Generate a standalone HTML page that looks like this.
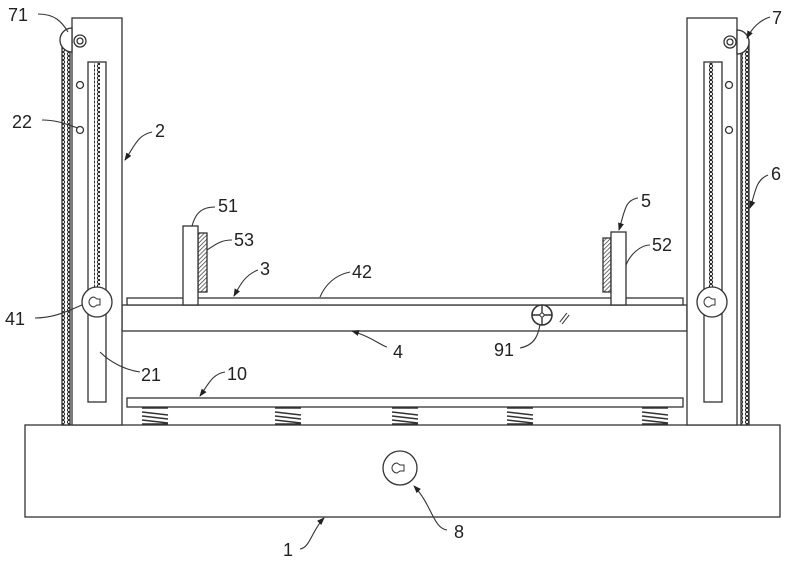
<!DOCTYPE html>
<html><head><meta charset="utf-8"><style>
html,body{margin:0;padding:0;background:#fff;width:800px;height:562px;overflow:hidden}
svg text{font-family:"Liberation Sans",sans-serif;font-size:18px;fill:#222}
</style></head><body>
<svg width="800" height="562" viewBox="0 0 800 562" xmlns="http://www.w3.org/2000/svg">
<defs>
<pattern id="ch" width="6" height="4" patternUnits="userSpaceOnUse"><rect width="6" height="4" fill="#fff"/><circle cx="3" cy="2" r="1.6" fill="none" stroke="#222" stroke-width="1"/></pattern>
<pattern id="ht" width="3" height="3" patternUnits="userSpaceOnUse" patternTransform="rotate(45)"><rect width="3" height="3" fill="#fff"/><line x1="0" y1="0" x2="0" y2="3" stroke="#333" stroke-width="1.4"/></pattern>
<marker id="ar" markerWidth="8" markerHeight="8" refX="7" refY="4" orient="auto" markerUnits="userSpaceOnUse"><path d="M0,1 L8,4 L0,7z" fill="#222"/></marker>
</defs>
<g fill="#fff" stroke="#333" stroke-width="1.3">
<rect x="25" y="425" width="755" height="92"/>
<circle cx="400" cy="468" r="17"/>
<path d="M397,463 a5,5 0 1,0 0,10 l3,-2 h4 v-6 h-4 z" stroke-width="1"/>
<g stroke-width="1.5" fill="none">
<path d="M142,408 h26 M142,412 l26,3 M142,416 l26,3 M142,420 l26,3 M142,424 h26"/>
<path d="M275,408 h26 M275,412 l26,3 M275,416 l26,3 M275,420 l26,3 M275,424 h26"/>
<path d="M392,408 h26 M392,412 l26,3 M392,416 l26,3 M392,420 l26,3 M392,424 h26"/>
<path d="M507,408 h26 M507,412 l26,3 M507,416 l26,3 M507,420 l26,3 M507,424 h26"/>
<path d="M642,408 h26 M642,412 l26,3 M642,416 l26,3 M642,420 l26,3 M642,424 h26"/>
</g>
<rect x="127" y="398" width="556" height="9"/>
<rect x="122" y="305" width="565" height="26"/>
<rect x="127" y="298" width="556" height="7"/>
<rect x="198" y="233" width="9" height="59" fill="url(#ht)"/>
<rect x="183" y="226" width="15" height="79"/>
<rect x="603" y="238" width="8" height="54" fill="url(#ht)"/>
<rect x="611" y="232" width="15" height="73"/>
<circle cx="542" cy="315" r="10" stroke-width="1.6"/>
<circle cx="542" cy="315" r="2" stroke-width="1"/>
<path d="M542,305 V313 M542,317 V325 M532,315 H540 M544,315 H552" stroke-width="1.4"/>
<path d="M561,323 l7,-9" stroke-width="4" stroke="#333"/><path d="M561,323 l7,-9" stroke-width="2" stroke="#fff"/>
<rect x="62" y="40" width="8" height="385" fill="url(#ch)"/>
<rect x="72" y="18" width="50" height="407"/>
<rect x="88" y="62" width="18" height="340"/>
<rect x="94" y="63" width="6" height="225" fill="url(#ch)" stroke="none"/>
<circle cx="80" cy="85" r="3.5"/><circle cx="80" cy="130" r="3.5"/>
<path d="M72,28 a12,12 0 0,0 0,24 z" />
<circle cx="80" cy="41" r="6"/><circle cx="80" cy="41" r="3"/>
<circle cx="97" cy="302" r="15"/>
<path d="M94,297 a5,5 0 1,0 0,10 l3,-2 h3 v-6 h-3 z" stroke-width="1"/>
<rect x="741" y="40" width="8" height="385" fill="url(#ch)"/>
<rect x="687" y="18" width="50" height="407"/>
<rect x="704" y="62" width="18" height="340"/>
<rect x="709" y="63" width="6" height="225" fill="url(#ch)" stroke="none"/>
<circle cx="729" cy="85" r="3.5"/><circle cx="729" cy="130" r="3.5"/>
<path d="M737,30 a12,12 0 0,1 0,24 z"/>
<circle cx="730" cy="42" r="6"/><circle cx="730" cy="42" r="3"/>
<circle cx="712" cy="302" r="15"/>
<path d="M709,297 a5,5 0 1,0 0,10 l3,-2 h3 v-6 h-3 z" stroke-width="1"/>
</g>
<g fill="none" stroke="#333" stroke-width="1.1">
<path d="M38,14 C55,14 62,22 68,32"/>
<path d="M770,17 C760,20 752,28 747,38" marker-end="url(#ar)"/>
<path d="M42,120 C58,120 68,125 78,128"/>
<path d="M152,132 C138,135 135,145 125,160" marker-end="url(#ar)"/>
<path d="M768,175 C755,180 755,195 750,208" marker-end="url(#ar)"/>
<path d="M215,207 C200,207 195,215 192,226"/>
<path d="M232,240 C220,240 215,245 207,250"/>
<path d="M638,198 C625,200 625,210 619,230" marker-end="url(#ar)"/>
<path d="M650,245 C640,245 630,255 626,265"/>
<path d="M258,270 C245,275 240,285 234,296" marker-end="url(#ar)"/>
<path d="M350,272 C335,275 325,285 320,297"/>
<path d="M35,318 C55,318 70,310 82,305"/>
<path d="M387,347 C380,345 372,337 352,331" marker-end="url(#ar)"/>
<path d="M520,348 C535,345 538,335 540,325"/>
<path d="M140,372 C125,370 110,362 100,352"/>
<path d="M225,372 C212,374 208,385 200,396" marker-end="url(#ar)"/>
<path d="M300,549 C310,548 312,530 324,518" marker-end="url(#ar)"/>
<path d="M447,530 C433,528 432,505 414,486" marker-end="url(#ar)"/>
</g>
<g>
<text x="8" y="21">71</text>
<text x="772" y="24">7</text>
<text x="12" y="128">22</text>
<text x="155" y="137">2</text>
<text x="771" y="180">6</text>
<text x="218" y="212">51</text>
<text x="234" y="246">53</text>
<text x="641" y="207">5</text>
<text x="652" y="251">52</text>
<text x="260" y="275">3</text>
<text x="352" y="278">42</text>
<text x="5" y="325">41</text>
<text x="393" y="358">4</text>
<text x="494" y="356">91</text>
<text x="141" y="381">21</text>
<text x="227" y="380">10</text>
<text x="283" y="556">1</text>
<text x="454" y="538">8</text>
</g>
</svg>
</body></html>
